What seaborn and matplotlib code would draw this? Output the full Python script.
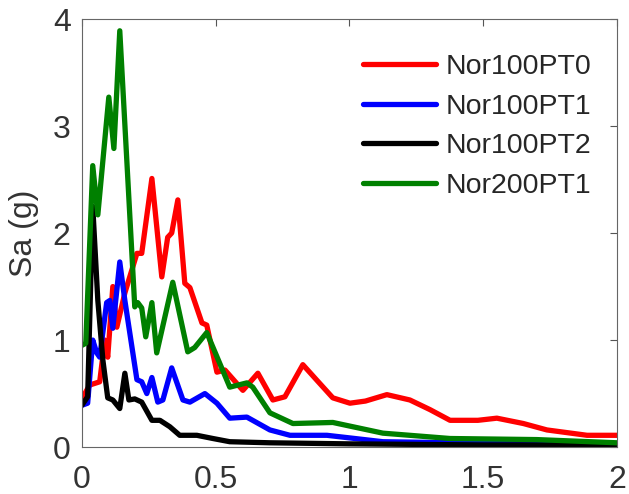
import matplotlib
matplotlib.use("Agg")
import matplotlib.pyplot as plt
import pandas as pd
import seaborn as sns

# spectral acceleration, period T in s, Sa in g
red_x = [0, 0.03, 0.067, 0.086, 0.097, 0.116, 0.131, 0.161, 0.206, 0.224, 0.262, 0.299, 0.321,
         0.336, 0.359, 0.385, 0.404, 0.449, 0.467, 0.505, 0.535, 0.602, 0.658, 0.714, 0.759,
         0.826, 0.88, 0.938, 1.002, 1.06, 1.14, 1.226, 1.301, 1.376, 1.413, 1.48, 1.551, 1.65,
         1.738, 1.888, 2.0]
red_y = [0.45, 0.58, 0.61, 1.0, 0.84, 1.5, 1.12, 1.44, 1.81, 1.81, 2.51, 1.59, 1.96,
         2.0, 2.31, 1.53, 1.49, 1.16, 1.14, 0.70, 0.72, 0.53, 0.69, 0.44, 0.47,
         0.77, 0.62, 0.46, 0.41, 0.43, 0.49, 0.44, 0.35, 0.25, 0.25, 0.25, 0.27, 0.22,
         0.16, 0.11, 0.11]

blue_x = [0, 0.022, 0.041, 0.056, 0.067, 0.093, 0.105, 0.116, 0.142, 0.161, 0.206, 0.224,
          0.243, 0.262, 0.284, 0.303, 0.336, 0.378, 0.404, 0.46, 0.505, 0.553, 0.617, 0.703,
          0.778, 0.916, 1.125, 1.4, 1.7, 2.0]
blue_y = [0.39, 0.41, 1.0, 0.88, 0.84, 1.35, 1.37, 1.11, 1.73, 1.37, 0.63, 0.61,
          0.50, 0.65, 0.42, 0.44, 0.74, 0.44, 0.42, 0.50, 0.41, 0.27, 0.28, 0.16,
          0.11, 0.11, 0.05, 0.04, 0.04, 0.03]

black_x = [0, 0.022, 0.041, 0.060, 0.079, 0.097, 0.116, 0.142, 0.161, 0.176, 0.198, 0.224,
           0.262, 0.292, 0.329, 0.366, 0.430, 0.490, 0.553, 0.703, 1.0, 1.5, 2.0]
black_y = [0.39, 0.47, 2.25, 1.37, 0.81, 0.46, 0.44, 0.36, 0.69, 0.44, 0.45, 0.42,
           0.25, 0.25, 0.19, 0.11, 0.11, 0.08, 0.05, 0.04, 0.03, 0.02, 0.02]

green_x = [0, 0.015, 0.041, 0.060, 0.101, 0.120, 0.142, 0.198, 0.209, 0.224, 0.239, 0.262,
           0.280, 0.340, 0.396, 0.422, 0.467, 0.553, 0.617, 0.639, 0.703, 0.789, 0.938,
           1.125, 1.376, 1.7, 2.0]
green_y = [0.95, 0.97, 2.63, 2.17, 3.27, 2.79, 3.89, 1.31, 1.35, 1.30, 1.03, 1.35,
           0.88, 1.54, 0.89, 0.93, 1.07, 0.56, 0.60, 0.56, 0.32, 0.22, 0.23,
           0.13, 0.08, 0.07, 0.04]

names = ["Nor100PT0", "Nor100PT1", "Nor100PT2", "Nor200PT1"]
colors = ["#ff0000", "#0000ff", "#000000", "#008000"]

frames = []
for name, xs, ys in zip(names, [red_x, blue_x, black_x, green_x], [red_y, blue_y, black_y, green_y]):
    frames.append(pd.DataFrame({"T": xs, "Sa": ys, "record": name}))
data = pd.concat(frames, ignore_index=True)

sns.set_style("white")
plt.rcParams["font.family"] = ["Liberation Sans", "DejaVu Sans"]

fig = plt.figure(figsize=(6.29, 4.94), dpi=100)
ax = fig.add_axes([0.130, 0.095, 0.851, 0.8665])

sns.lineplot(data=data, x="T", y="Sa", hue="record", palette=dict(zip(names, colors)),
             estimator=None, sort=False, linewidth=3.8, ax=ax)

ax.set_xlim(0, 2)
ax.set_ylim(0, 4)
ax.set_xticks([0, 0.5, 1, 1.5, 2])
ax.set_xticklabels(["0", "0.5", "1", "1.5", "2"])
ax.set_yticks([0, 1, 2, 3, 4])
ax.set_xlabel("")
ax.set_ylabel("Sa (g)", fontsize=23, color="#333333", labelpad=10)
ax.tick_params(direction="in", top=True, right=True, length=5, width=0.8,
               labelsize=23, colors="#555555", labelcolor="#333333")
ax.tick_params(axis="x", pad=13)
ax.tick_params(axis="y", pad=8)
for sp in ax.spines.values():
    sp.set_color("#666666")
    sp.set_linewidth(0.8)

handles, labels = ax.get_legend_handles_labels()
ax.legend(handles, labels, frameon=False, fontsize=20.5, loc="upper left",
          bbox_to_anchor=(363 / 629, 1 - 54 / 494), bbox_transform=fig.transFigure,
          handlelength=2.55, handletextpad=0.35, labelspacing=0.48,
          borderpad=0, borderaxespad=0)

fig.savefig("out.png", dpi=100)
